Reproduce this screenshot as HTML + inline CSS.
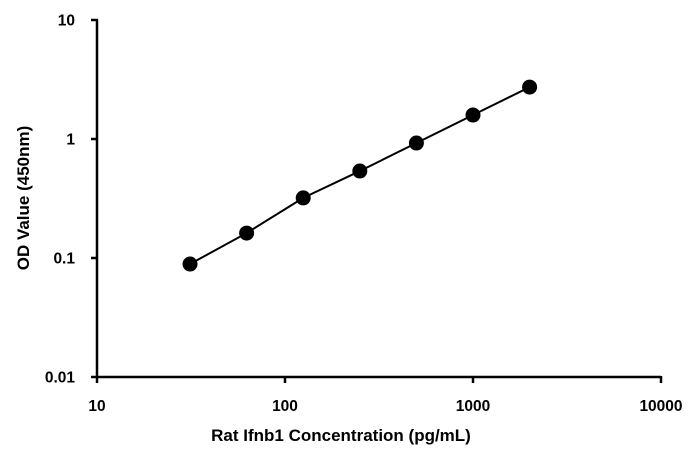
<!DOCTYPE html>
<html><head><meta charset="utf-8"><style>
body{margin:0;background:#fff}
svg{display:block;font-family:"Liberation Sans","DejaVu Sans",sans-serif}
</style></head><body>
<svg width="697" height="454">
<g id="axes"></g><g id="plot"></g>
</svg>
<script>
const concentrations=[31.25,62.5,125,250,500,1000,2000];
const odValues=[0.089,0.162,0.32,0.538,0.925,1.59,2.73];
const xTicks=[10,100,1000,10000];
const yTicks=[0.01,0.1,1,10];
const xTickLabels=["10","100","1000","10000"];
const yTickLabels=["0.01","0.1","1","10"];
const NS="http://www.w3.org/2000/svg";
const x0=97,x1=661,yTop=20,yBot=377;
function xs(v){return x0+(Math.log10(v)-1)/3*(x1-x0);}
function ys(v){return yBot-(Math.log10(v)+2)/3*(yBot-yTop);}
function mk(tag,attrs,parent){const e=document.createElementNS(NS,tag);for(const k in attrs)e.setAttribute(k,attrs[k]);parent.appendChild(e);return e;}
const axes=document.getElementById('axes'),plot=document.getElementById('plot');
let a=mk('line',{x1:x0,y1:yTop,x2:x0,y2:yBot+1,stroke:'#000','stroke-width':2.5},axes);


a=mk('line',{x1:x0,y1:yBot,x2:x1,y2:yBot,stroke:'#000','stroke-width':2.5},axes);


yTicks.forEach((v,i)=>{const y=ys(v);
 const t=mk('line',{x1:x0-6,y1:y,x2:x0+1,y2:y,stroke:'#000','stroke-width':2.5},axes);
 
 
 const l=mk('text',{x:x0-22,y:y+5.5,'text-anchor':'end','font-size':15.5,'font-weight':'bold'},axes);
 l.textContent=yTickLabels[i];
 
 });
xTicks.forEach((v,i)=>{const x=xs(v);
 const t=mk('line',{x1:x,y1:yBot-1,x2:x,y2:yBot+6,stroke:'#000','stroke-width':2.5},axes);
 
 
 const l=mk('text',{x:x,y:411,'text-anchor':'middle','font-size':15.5,'font-weight':'bold'},axes);
 l.textContent=xTickLabels[i];
 
 });
let t=mk('text',{x:341,y:441,'text-anchor':'middle','font-size':17,'font-weight':'bold'},axes);
t.textContent='Rat Ifnb1 Concentration (pg/mL)';


t=mk('text',{x:0,y:0,'text-anchor':'middle','font-size':17,'font-weight':'bold',transform:'translate(29,198) rotate(-90)'},axes);
t.textContent='OD Value (450nm)';


const pts=concentrations.map((c,i)=>xs(c)+','+ys(odValues[i])).join(' ');
const pl=mk('polyline',{points:pts,fill:'none',stroke:'#000','stroke-width':2},plot);


concentrations.forEach((c,i)=>{
 const p=mk('circle',{cx:xs(c),cy:ys(odValues[i]),r:7.5,fill:'#000'},plot);
 
 });
</script>
</body></html>
